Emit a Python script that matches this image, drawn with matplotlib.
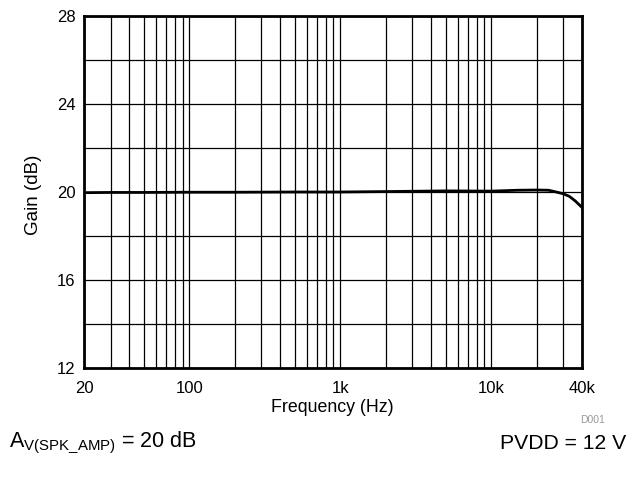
import numpy as np
import matplotlib
matplotlib.use('Agg')
import matplotlib.pyplot as plt
from matplotlib.ticker import FixedLocator, NullFormatter

plt.rcParams['font.family'] = ['Liberation Sans', 'DejaVu Sans']
plt.rcParams['mathtext.fontset'] = 'custom'
plt.rcParams['mathtext.rm'] = 'Liberation Sans'

# gain vs frequency
freq = [21, 30, 50, 100, 200, 500, 1000, 2000, 5000, 10000, 15000, 20000, 24000, 27000, 30000, 33000, 36000, 40000]
gain = [19.97, 19.98, 19.98, 19.99, 19.99, 20.0, 20.0, 20.02, 20.05, 20.04, 20.08, 20.09, 20.08, 20.0, 19.92, 19.8, 19.6, 19.3]

xticks = [20, 100, 1000, 10000, 40000]
xlabels = ['20', '100', '1k', '10k', '40k']
yticks = [12, 16, 20, 24, 28]

fig = plt.figure(figsize=(6.36, 4.86), dpi=100)
ax = fig.add_axes([84/636, 1 - 368/486, 498/636, 352/486])

ax.plot(freq, gain, color='black', lw=2)
ax.set_xscale('log')
ax.set_xlim(20, 40000)
ax.set_ylim(12, 28)

ax.xaxis.set_major_locator(FixedLocator(xticks))
ax.set_xticklabels(xlabels)
minor = [m * d for d in [10, 100, 1000, 10000] for m in range(2, 10) if 20 < m * d < 40000]
ax.xaxis.set_minor_locator(FixedLocator(minor))
ax.xaxis.set_minor_formatter(NullFormatter())
ax.set_yticks(yticks)
ax.yaxis.set_minor_locator(FixedLocator(np.arange(12, 29, 2)))

ax.grid(True, which='both', color='black', lw=0.9)
ax.tick_params(which='both', length=0, labelsize=12)
ax.tick_params(axis='x', pad=9)
ax.tick_params(axis='y', pad=6)
for s in ax.spines.values():
    s.set_linewidth(2)

fig.text(332/636, 1 - 408/486, 'Frequency (Hz)', fontsize=12.8, ha='center', va='center')
fig.text(33/636, 1 - 195/486, 'Gain (dB)', fontsize=13.5, rotation=90, ha='center', va='center')

fig.text(593/636, 1 - 420/486, 'D001', fontsize=7.5, color='#999999', ha='center', va='center')
fig.text(9/636, 1 - 443/486, r'$\mathregular{A_{V(SPK\_AMP)}}$ = 20 dB', fontsize=15.5, ha='left', va='center')
fig.text(626/636, 1 - 443/486, 'PVDD = 12 V', fontsize=15.2, ha='right', va='center')

fig.savefig('out.png', dpi=100)
